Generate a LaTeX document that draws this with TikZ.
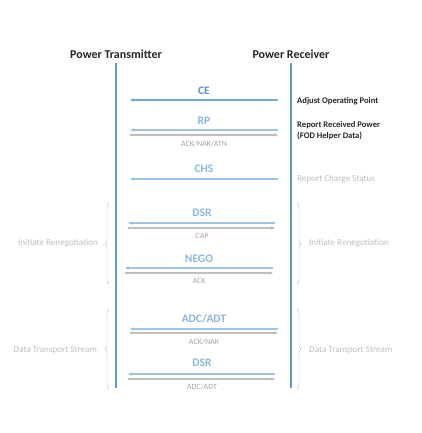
\documentclass[tikz,border=0pt]{standalone}
\usepackage{fontspec}
\setmainfont{Carlito}
\usetikzlibrary{arrows.meta,positioning,decorations.pathreplacing}
\definecolor{qilife}{HTML}{5B9BD5}
\definecolor{qimsg}{HTML}{9DC3E6}
\definecolor{qimsgtext}{HTML}{8DB6E4}
\definecolor{qimsgdark}{HTML}{5B8FD0}
\definecolor{qiack}{HTML}{BFBFBF}
\definecolor{qiacktext}{HTML}{A6A6A6}
\definecolor{qinote}{HTML}{262626}
\tikzset{
  partytitle/.style={font=\bfseries\fontsize{12}{14}\selectfont,text=qinote,inner sep=1pt},
  lifeline/.style={draw=qilife,line width=1.6pt},
  msglabel/.style={font=\bfseries\fontsize{11.5}{13}\selectfont,text=qimsgtext,inner sep=0pt},
  acklabel/.style={font=\fontsize{8}{9}\selectfont,text=qiacktext,inner sep=0pt},
  msgflow/.style={-{Stealth[length=4pt,width=3.5pt]},draw=qimsg,line width=1.1pt},
  ackflow/.style={-{Stealth[length=4pt,width=3.5pt]},draw=qiack,line width=1.1pt},
  notebold/.style={font=\bfseries\fontsize{8.6}{11}\selectfont,text=qinote,align=left,anchor=west,inner sep=0pt},
  notegray/.style={font=\fontsize{9.1}{11}\selectfont,text=qiack,align=left,inner sep=0pt},
  groupbrace/.style={draw=qiack,thin,decorate,decoration={brace,amplitude=4pt}}
}
\begin{document}
\begin{tikzpicture}[x=1pt,y=-1pt]
  \useasboundingbox[fill=white] (0,0) rectangle (422,433);

  % parties and lifelines
  \node[partytitle] (ptx) at (116,54) {Power Transmitter};
  \node[partytitle] (prx) at (291,54) {Power Receiver};
  \coordinate (ptxend) at (116,388);
  \coordinate (prxend) at (291,388);
  \draw[lifeline] (116,63) -- (ptxend);
  \draw[lifeline] (291,63) -- (prxend);

  % CE
  \node[msglabel,text=qimsgdark] (ce) at (204,91) {CE};
  \coordinate (cer) at (278,100); \coordinate (cel) at (130,100);
  \draw[msgflow,draw=qilife!85] (cer) -- (cel);
  \node[notebold] (cenote) at (297,101) {Adjust Operating Point};

  % RP
  \node[msglabel] (rp) at (204,121) {RP};
  \coordinate (rpr) at (278,130); \coordinate (rpl) at (130,130);
  \coordinate (rpar) at (278,135); \coordinate (rpal) at (130,135);
  \draw[msgflow] (rpr) -- (rpl);
  \draw[ackflow] (rpal) -- (rpar);
  \node[acklabel] (rpack) at (204,144) {ACK/NAK/ATN};
  \node[notebold] (rpnote) at (297,131) {Report Received Power\\(FOD Helper Data)};

  % CHS
  \node[msglabel] (chs) at (204,169) {CHS};
  \coordinate (chsr) at (278,179); \coordinate (chsl) at (130,179);
  \draw[msgflow] (chsr) -- (chsl);
  \node[notegray,anchor=west] (chsnote) at (297,179) {Report Charge Status};

  % renegotiation
  \node[msglabel] (dsra) at (202,213) {DSR};
  \coordinate (dsrar) at (275,223); \coordinate (dsral) at (128,223);
  \coordinate (dsraar) at (275,228); \coordinate (dsraal) at (128,228);
  \draw[msgflow] (dsrar) -- (dsral);
  \draw[ackflow] (dsraal) -- (dsraar);
  \node[acklabel] (cap) at (202,236) {CAP};

  \node[msglabel] (nego) at (199,259) {NEGO};
  \coordinate (negor) at (273,268); \coordinate (negol) at (125,268);
  \coordinate (negoar) at (273,273); \coordinate (negoal) at (125,273);
  \draw[msgflow] (negor) -- (negol);
  \draw[ackflow] (negoal) -- (negoar);
  \node[acklabel] (negoack) at (199,281) {ACK};

  \coordinate (renlb) at (109,284); \coordinate (renlt) at (109,203);
  \coordinate (renrt) at (297,203); \coordinate (renrb) at (297,284);
  \draw[groupbrace] (renlb) -- (renlt);
  \draw[groupbrace] (renrt) -- (renrb);
  \node[notegray,anchor=east] (renl) at (98,243) {Initiate Renegotiation};
  \node[notegray,anchor=west] (renr) at (309,243) {Initiate Renegotiation};

  % data transport
  \node[msglabel] (adc) at (204,319) {ADC/ADT};
  \coordinate (adcr) at (278,329); \coordinate (adcl) at (130,329);
  \coordinate (adcar) at (278,333); \coordinate (adcal) at (130,333);
  \draw[msgflow] (adcr) -- (adcl);
  \draw[ackflow] (adcal) -- (adcar);
  \node[acklabel] (adcack) at (204,342) {ACK/NAK};

  \node[msglabel] (dsrb) at (202,363) {DSR};
  \coordinate (dsrbr) at (275,374); \coordinate (dsrbl) at (128,374);
  \coordinate (dsrbar) at (275,379); \coordinate (dsrbal) at (128,379);
  \draw[msgflow] (dsrbr) -- (dsrbl);
  \draw[ackflow] (dsrbal) -- (dsrbar);
  \node[acklabel] (dsrback) at (202,387) {ADC/ADT};

  \coordinate (dtslb) at (109,389); \coordinate (dtslt) at (109,309);
  \coordinate (dtsrt) at (297,309); \coordinate (dtsrb) at (297,389);
  \draw[groupbrace] (dtslb) -- (dtslt);
  \draw[groupbrace] (dtsrt) -- (dtsrb);
  \node[notegray,anchor=east] (dtsl) at (97,350) {Data Transport Stream};
  \node[notegray,anchor=west] (dtsr) at (309,350) {Data Transport Stream};
\end{tikzpicture}
\end{document}
